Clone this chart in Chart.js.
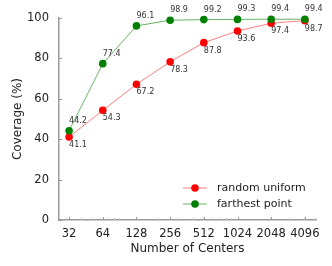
<!DOCTYPE html>
<html>
<head>
<meta charset="utf-8">
<script src="https://cdn.jsdelivr.net/npm/chart.js@4"></script>
<style>
  html, body { margin: 0; padding: 0; background: #fff; }
  #wrap { width: 332px; height: 266px; }
</style>
</head>
<body>
<div id="wrap"><canvas id="chart" width="332" height="266"></canvas></div>
<script>
// chart values
const centers = [32, 64, 128, 256, 512, 1024, 2048, 4096];
const randomUniform = [41.1, 54.3, 67.2, 78.3, 87.8, 93.6, 97.4, 98.7];
const farthestPoint = [44.2, 77.4, 96.1, 98.9, 99.2, 99.3, 99.4, 99.4];
const yTicks = [0, 20, 40, 60, 80, 100];
// faint log10 minor ticks on the x axis
const xMinorTicks = [30, 40, 50, 60, 70, 80, 90, 200, 300, 400, 500, 600, 700, 800, 900, 2000, 3000, 4000, 5000];

const FONT = 'DejaVu Sans';
const AXIS_GREY = '#9a9a9a';

const series = [
  { label: 'random uniform', values: randomUniform, dot: '#ff0000', line: 'rgba(255,0,0,0.5)', above: false, order: 2 },
  { label: 'farthest point', values: farthestPoint, dot: '#008000', line: 'rgba(0,128,0,0.6)', above: true, order: 1 }
];

/* value labels next to each marker */
const valueLabels = {
  id: 'valueLabels',
  afterDatasetsDraw(chart) {
    const ctx = chart.ctx;
    ctx.save();
    ctx.font = '8px "' + FONT + '"';
    ctx.fillStyle = '#333';
    ctx.textAlign = 'left';
    chart.data.datasets.forEach((ds, i) => {
      const meta = chart.getDatasetMeta(i);
      meta.data.forEach((pt, j) => {
        const txt = ds.data[j].y.toFixed(1);
        if (ds.above) {
          ctx.textBaseline = 'bottom';
          ctx.fillText(txt, pt.x, pt.y - 6);
        } else {
          ctx.textBaseline = 'top';
          ctx.fillText(txt, pt.x, pt.y + 4);
        }
      });
    });
    ctx.restore();
  }
};

/* inward tick marks, matplotlib style */
const innerTicks = {
  id: 'innerTicks',
  afterDraw(chart) {
    const ctx = chart.ctx;
    const xs = chart.scales.x, ys = chart.scales.y;
    const a = chart.chartArea;
    ctx.save();
    ctx.lineWidth = 1;
    ctx.strokeStyle = '#c8c8c8';
    ctx.beginPath();
    xMinorTicks.forEach(c => {
      const px = Math.round(xs.getPixelForValue(c)) + 0.5;
      ctx.moveTo(px, a.bottom);
      ctx.lineTo(px, a.bottom - 2);
    });
    ctx.stroke();
    ctx.strokeStyle = AXIS_GREY;
    ctx.beginPath();
    centers.forEach(c => {
      const px = Math.round(xs.getPixelForValue(c)) + 0.5;
      ctx.moveTo(px, a.bottom);
      ctx.lineTo(px, a.bottom - 3);
    });
    yTicks.forEach(t => {
      const py = Math.round(ys.getPixelForValue(t)) + 0.5;
      ctx.moveTo(a.left, py);
      ctx.lineTo(a.left + 3, py);
    });
    ctx.stroke();
    ctx.restore();
  }
};

/* legend drawn like matplotlib: line with marker */
const markerLegend = {
  id: 'markerLegend',
  afterDraw(chart) {
    const ctx = chart.ctx;
    ctx.save();
    ctx.font = '11px "' + FONT + '"';
    ctx.textBaseline = 'middle';
    ctx.textAlign = 'left';
    series.forEach((s, i) => {
      const y = 188 + i * 16;
      ctx.strokeStyle = s.line;
      ctx.lineWidth = 1;
      ctx.beginPath();
      ctx.moveTo(183, y);
      ctx.lineTo(207, y);
      ctx.stroke();
      ctx.fillStyle = s.dot;
      ctx.beginPath();
      ctx.arc(195, y, 3.8, 0, Math.PI * 2);
      ctx.fill();
      ctx.fillStyle = '#222';
      ctx.fillText(s.label, 217, y);
    });
    ctx.restore();
  }
};

const datasets = series.map(s => ({
  label: s.label,
  data: centers.map((c, i) => ({ x: c, y: s.values[i] })),
  borderColor: s.line,
  borderWidth: 1,
  backgroundColor: s.dot,
  pointBackgroundColor: s.dot,
  pointBorderColor: s.dot,
  pointRadius: 3.8,
  pointBorderWidth: 0,
  tension: 0,
  clip: false,
  order: s.order,
  above: s.above
}));

new Chart(document.getElementById('chart'), {
  type: 'line',
  data: { datasets: datasets },
  options: {
    responsive: false,
    animation: false,
    layout: { padding: { top: 18, right: 16, left: 0, bottom: 10 } },
    plugins: {
      legend: { display: false },
      tooltip: { enabled: false }
    },
    scales: {
      x: {
        type: 'logarithmic',
        min: 26,
        max: 5150,
        afterBuildTicks: scale => { scale.ticks = centers.map(v => ({ value: v })); },
        afterFit: scale => { scale.height = 36; },
        grid: { display: false, drawTicks: false },
        border: { color: AXIS_GREY, width: 1.5 },
        ticks: {
          autoSkip: false,
          maxRotation: 0,
          padding: 7,
          color: '#222',
          font: { family: FONT, size: 11.5 },
          callback: v => String(v)
        },
        title: {
          display: true,
          text: 'Number of Centers',
          color: '#222',
          font: { family: FONT, size: 12 },
          padding: { top: 0, bottom: 0 }
        }
      },
      y: {
        min: 0,
        max: 100,
        afterBuildTicks: scale => { scale.ticks = yTicks.map(v => ({ value: v })); },
        afterFit: scale => { scale.width = 59; },
        grid: { display: false, drawTicks: false },
        border: { color: AXIS_GREY, width: 1.5 },
        ticks: {
          padding: 10,
          color: '#222',
          font: { family: FONT, size: 11.5 }
        },
        title: {
          display: true,
          text: 'Coverage (%)',
          color: '#222',
          font: { family: FONT, size: 12 },
          padding: { top: 11, bottom: 0 }
        }
      }
    }
  },
  plugins: [valueLabels, innerTicks, markerLegend]
});
</script>
</body>
</html>
